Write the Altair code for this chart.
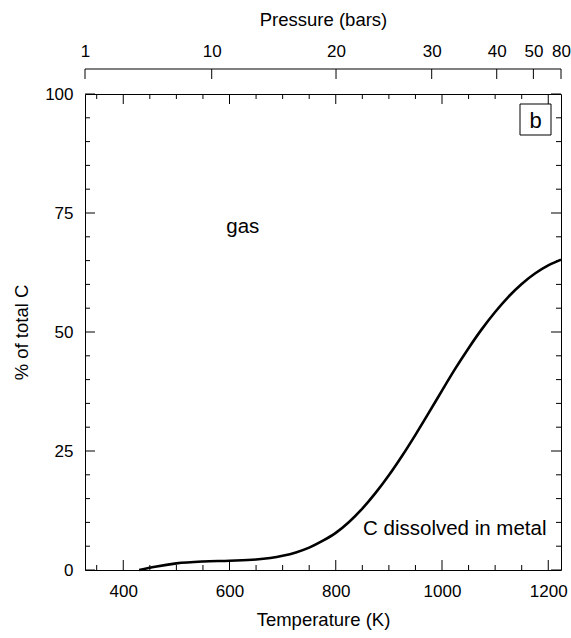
import json
import altair as alt
import pandas as pd

# ---- data ----
temperature_K = [430, 460, 500, 550, 600, 650, 700, 725, 750, 775, 800, 825, 850, 875,
                 900, 925, 950, 975, 1000, 1025, 1050, 1075, 1100, 1125, 1150, 1175,
                 1200, 1224]
pct_dissolved = [0, 0.7, 1.4, 1.8, 1.95, 2.2, 3.0, 3.7, 4.7, 6.1, 7.8, 10.1, 12.9, 16.2,
                 19.9, 24.0, 28.4, 33.0, 37.7, 42.3, 46.6, 50.6, 54.2, 57.4, 60.1, 62.3,
                 64.0, 65.2]

pressure_labels = ["1", "10", "20", "30", "40", "50", "80"]
pressure_at_T = [328, 566.5, 800.5, 980.6, 1103, 1172, 1224]

x_major = [400, 600, 800, 1000, 1200]
x_minor = [350, 450, 500, 550, 650, 700, 750, 850, 900, 950, 1050, 1100, 1150]
y_major = [0, 25, 50, 75, 100]
y_minor = [5, 10, 15, 20, 30, 35, 40, 45, 55, 60, 65, 70, 80, 85, 90, 95]

annot_text = ["gas", "C dissolved in metal"]
annot_T = [625, 1024]
annot_pct = [72, 8.6]
panel_label = ["b"]

# ---- layout / style ----
W = H = 476
FONT = "Liberation Sans"
MAJ, MIN = 10, 5

xs = alt.Scale(domain=[328, 1224], nice=False, zero=False)
ys = alt.Scale(domain=[0, 100], nice=False, zero=True)

curve_df = pd.DataFrame({"T": temperature_K, "v": pct_dissolved})
annot_df = pd.DataFrame({"T": annot_T, "v": annot_pct, "t": annot_text})
press_df = pd.DataFrame({"T": pressure_at_T, "p": pressure_labels})
xmaj_df = pd.DataFrame({"T": x_major})
xmin_df = pd.DataFrame({"T": x_minor})
ymaj_df = pd.DataFrame({"v": y_major})
ymin_df = pd.DataFrame({"v": y_minor})
panel_df = pd.DataFrame({"t": panel_label})

label_expr = (json.dumps(pressure_labels) + "[indexof(" + json.dumps(pressure_at_T)
              + ", datum.value)]")

curve = alt.Chart(curve_df).mark_line(color="black", strokeWidth=2.6,
                                      interpolate="monotone").encode(
    x=alt.X("T:Q", scale=xs, axis=alt.Axis(values=x_major, title="Temperature (K)",
                                           labelPadding=13, titlePadding=11,
                                           format="d", labelFlush=False)),
    y=alt.Y("v:Q", scale=ys, axis=alt.Axis(values=y_major, title="% of total C",
                                           labelPadding=12, titlePadding=13,
                                           labelFlush=False)),
)

annots = alt.Chart(annot_df).mark_text(font=FONT, fontSize=20.5, color="black").encode(
    x=alt.X("T:Q", scale=xs, axis=None),
    y=alt.Y("v:Q", scale=ys, axis=None),
    text="t:N",
)

press = alt.Chart(press_df).mark_rule(color="black", strokeWidth=1).encode(
    x=alt.X("T:Q", scale=xs, axis=alt.Axis(orient="top", values=pressure_at_T,
                                           labelExpr=label_expr, title="Pressure (bars)",
                                           offset=25, labelPadding=9, titlePadding=13,
                                           labelFlush=False, labelOverlap=False)),
    y=alt.value(-25), y2=alt.value(-15),
)

press_line = alt.Chart(panel_df).mark_rule(color="black", strokeWidth=1).encode(
    x=alt.value(0), x2=alt.value(W), y=alt.value(-25))


def xticks(df, y0, y1):
    return alt.Chart(df).mark_rule(color="black", strokeWidth=1).encode(
        x=alt.X("T:Q", scale=xs, axis=None), y=alt.value(y0), y2=alt.value(y1))


def yticks(df, x0, x1):
    return alt.Chart(df).mark_rule(color="black", strokeWidth=1).encode(
        y=alt.Y("v:Q", scale=ys, axis=None), x=alt.value(x0), x2=alt.value(x1))


ticks = [
    xticks(xmaj_df, H, H - MAJ), xticks(xmin_df, H, H - MIN),
    xticks(xmaj_df, 0, MAJ), xticks(xmin_df, 0, MIN),
    yticks(ymaj_df, 0, MAJ), yticks(ymin_df, 0, MIN),
    yticks(ymaj_df, W, W - MAJ), yticks(ymin_df, W, W - MIN),
]

box = alt.Chart(panel_df).mark_rect(fill="white", stroke="black", strokeWidth=1).encode(
    x=alt.value(435), x2=alt.value(466), y=alt.value(10), y2=alt.value(41))
box_text = alt.Chart(panel_df).mark_text(font=FONT, fontSize=22, color="black",
                                         baseline="alphabetic").encode(
    x=alt.value(450.5), y=alt.value(34), text="t:N")

chart = alt.layer(curve, annots, press, press_line, *ticks, box, box_text).resolve_axis(
    x="independent", y="independent"
).properties(
    width=W, height=H,
    autosize=alt.AutoSizeParams(type="none"),
    padding={"left": 85, "top": 94, "right": 10, "bottom": 68},
).configure_view(stroke="black", strokeWidth=1).configure_axis(
    labelFont=FONT, titleFont=FONT, labelFontSize=17, titleFontSize=18.5,
    labelColor="black", titleColor="black", titleFontWeight="normal",
    grid=False, domain=False, ticks=False, tickSize=0,
)

chart.save("out.html", embed_options={"renderer": "svg", "actions": False})
